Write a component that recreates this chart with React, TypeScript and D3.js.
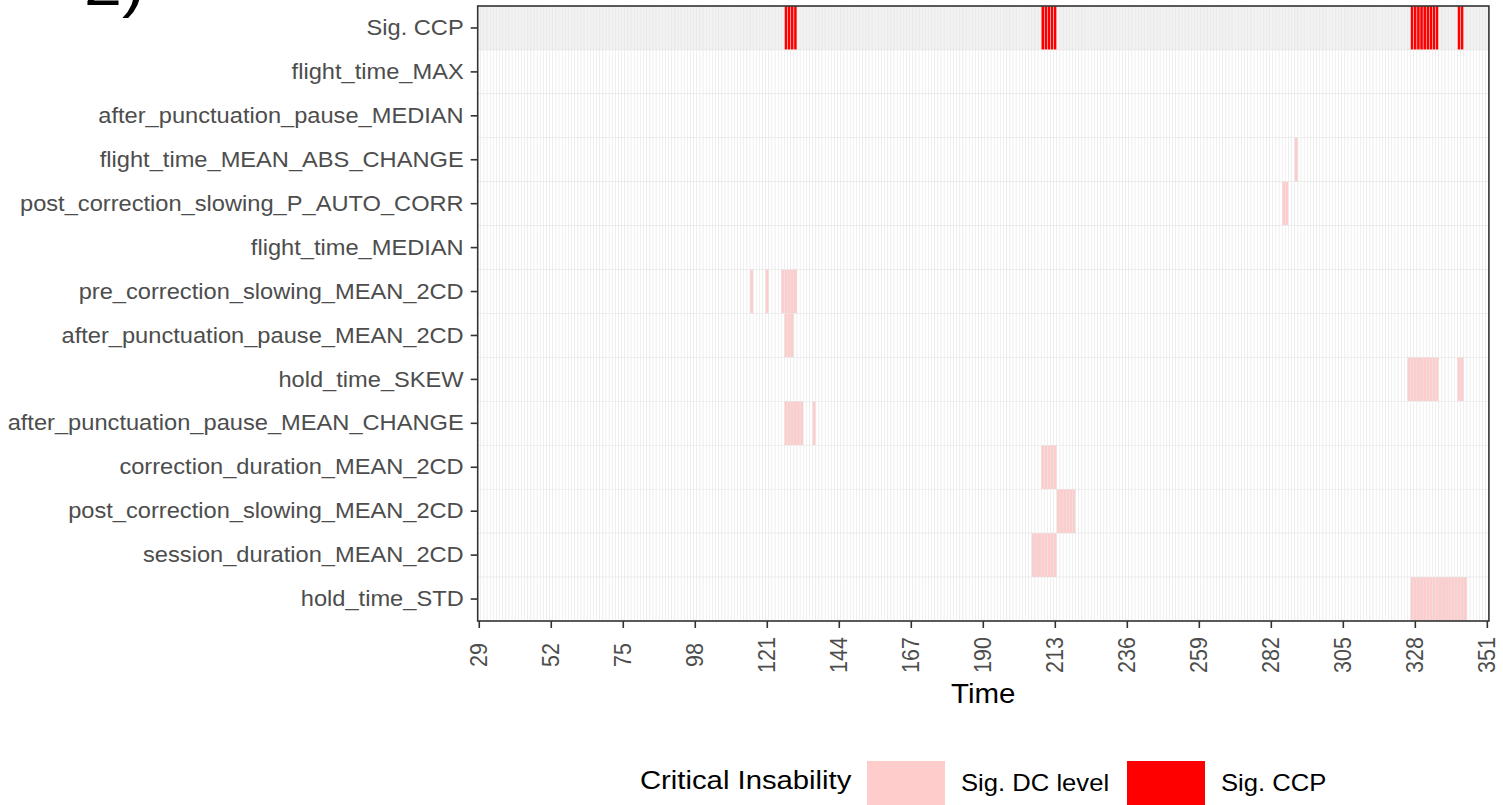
import React from "react";
import * as d3 from "d3";

const rows = [
  "Sig. CCP",
  "flight_time_MAX",
  "after_punctuation_pause_MEDIAN",
  "flight_time_MEAN_ABS_CHANGE",
  "post_correction_slowing_P_AUTO_CORR",
  "flight_time_MEDIAN",
  "pre_correction_slowing_MEAN_2CD",
  "after_punctuation_pause_MEAN_2CD",
  "hold_time_SKEW",
  "after_punctuation_pause_MEAN_CHANGE",
  "correction_duration_MEAN_2CD",
  "post_correction_slowing_MEAN_2CD",
  "session_duration_MEAN_2CD",
  "hold_time_STD",
];

const timeStart = 29;
const timeEnd = 351;
const tickTimes = [29, 52, 75, 98, 121, 144, 167, 190, 213, 236, 259, 282, 305, 328, 351];

// Significant change points (red)
const sigCCPTimes = [127, 128, 129, 130, 209, 210, 211, 212, 213, 327, 328, 329, 330, 331, 332, 333, 334, 335, 342, 343];

// Significant DC level times per feature (pink)
const flightTimeMax: number[] = [];
const afterPunctMedian: number[] = [];
const flightTimeMeanAbsChange = [290];
const postCorrSlowingPAutoCorr = [286, 287];
const flightTimeMedian: number[] = [];
const preCorrSlowingMean2cd = [116, 121, 126, 127, 128, 129, 130];
const afterPunctMean2cd = [127, 128, 129];
const holdTimeSkew = [326, 327, 328, 329, 330, 331, 332, 333, 334, 335, 342, 343];
const afterPunctMeanChange = [127, 128, 129, 130, 131, 132, 136];
const correctionDurationMean2cd = [209, 210, 211, 212, 213];
const postCorrSlowingMean2cd = [214, 215, 216, 217, 218, 219];
const sessionDurationMean2cd = [206, 207, 208, 209, 210, 211, 212, 213];
const holdTimeStd = [327, 328, 329, 330, 331, 332, 333, 334, 335, 336, 337, 338, 339, 340, 341, 342, 343, 344];

const dcByRow: number[][] = [
  flightTimeMax,
  afterPunctMedian,
  flightTimeMeanAbsChange,
  postCorrSlowingPAutoCorr,
  flightTimeMedian,
  preCorrSlowingMean2cd,
  afterPunctMean2cd,
  holdTimeSkew,
  afterPunctMeanChange,
  correctionDurationMean2cd,
  postCorrSlowingMean2cd,
  sessionDurationMean2cd,
  holdTimeStd,
];

const FONT = "'Liberation Sans', Arial, Helvetica, sans-serif";
const PINK = "#FFCCCC";
const RED = "#FF0000";
const SX = 1.1; // horizontal stretch of the original figure

export default function App() {
  const W = 1503;
  const H = 805;
  const left = 477.7;
  const right = 1488.9;
  const top = 6;
  const bottom = 621;

  const times = d3.range(timeStart, timeEnd + 1);
  const x = d3.scaleBand<number>().domain(times).range([left, right]).padding(0);
  const y = d3.scaleBand<string>().domain(rows).range([top, bottom]).padding(0);
  const bw = x.bandwidth();
  const bh = y.bandwidth();

  const cells: React.ReactNode[] = [];
  rows.forEach((r, ri) => {
    const sigSet = new Set(ri === 0 ? sigCCPTimes : dcByRow[ri - 1]);
    times.forEach((t) => {
      let fill = ri === 0 ? "#F2F2F2" : "#FFFFFF";
      if (sigSet.has(t)) fill = ri === 0 ? RED : PINK;
      cells.push(
        <rect
          key={r + "-" + t}
          x={x(t)!}
          y={y(r)!}
          width={bw}
          height={bh}
          fill={fill}
          stroke="#E3E3E3"
          strokeWidth={0.5}
          strokeOpacity={0.9}
        />
      );
    });
  });

  const cx = (left + right) / 2;

  return (
    <svg
      width={W}
      height={H}
      style={{ position: "absolute", left: 0, top: 0, background: "#fff" }}
      fontFamily={FONT}
    >
      <text transform={`translate(84,5) scale(${SX},1)`} fontSize={62} fill="#000">2)</text>
      <g>{cells}</g>
      <rect x={left} y={top} width={right - left} height={bottom - top} fill="none" stroke="#333333" strokeWidth={1.6} />
      {rows.map((r) => (
        <g key={"yl-" + r}>
          <line x1={left - 7} x2={left} y1={y(r)! + bh / 2} y2={y(r)! + bh / 2} stroke="#333333" strokeWidth={1.6} />
          <text
            transform={`translate(${left - 14},${y(r)! + bh / 2}) scale(${SX},1)`}
            textAnchor="end"
            dominantBaseline="central"
            fontSize={21.5}
            fill="#4D4D4D"
          >
            {r}
          </text>
        </g>
      ))}
      {tickTimes.map((t) => {
        const tx = x(t)! + bw / 2;
        return (
          <g key={"xt-" + t}>
            <line x1={tx} x2={tx} y1={bottom} y2={bottom + 7} stroke="#333333" strokeWidth={1.6} />
            <text
              transform={`translate(${tx},655) scale(${SX},1) rotate(-90)`}
              textAnchor="middle"
              dominantBaseline="central"
              fontSize={21.5}
              fill="#4D4D4D"
            >
              {t}
            </text>
          </g>
        );
      })}
      <text transform={`translate(${cx},703) scale(${SX},1)`} textAnchor="middle" fontSize={26.8} fill="#000">Time</text>
      <g>
        <text transform={`translate(640,789) scale(${SX},1)`} fontSize={26.6} fill="#000">Critical Insability</text>
        <rect x={867} y={761} width={78} height={50} fill={PINK} />
        <text transform={`translate(961,791) scale(${SX},1)`} fontSize={23.3} fill="#000">Sig. DC level</text>
        <rect x={1127} y={761} width={78} height={50} fill={RED} />
        <text transform={`translate(1221,791) scale(${SX},1)`} fontSize={23.3} fill="#000">Sig. CCP</text>
      </g>
    </svg>
  );
}
